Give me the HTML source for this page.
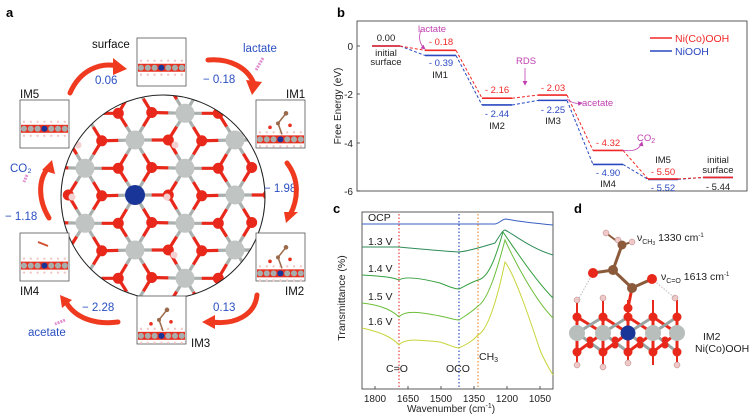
<!DOCTYPE html>
<html><head><meta charset="utf-8"><style>
html,body{margin:0;padding:0;background:#fff;width:750px;height:416px;overflow:hidden;}
svg{display:block;font-family:"Liberation Sans",Arial,sans-serif;overflow:hidden;}
</style></head><body>
<svg id="s" width="750" height="416" viewBox="0 0 750 416" xmlns="http://www.w3.org/2000/svg">
<defs>
<clipPath id="cc"><circle cx="163" cy="197" r="102"/></clipPath>
<marker id="ma" markerWidth="6" markerHeight="6" refX="5" refY="3" orient="auto"><path d="M0,0 L6,3 L0,6 z" fill="#c040b0"/></marker>
</defs>
<text x="6" y="17" font-size="13" font-weight="bold">a</text>
<text x="337" y="17" font-size="13" font-weight="bold">b</text>
<text x="333" y="213" font-size="13" font-weight="bold">c</text>
<text x="574" y="213" font-size="13" font-weight="bold">d</text>

<g id="lat" clip-path="url(#cc)"></g>
<circle cx="163" cy="197" r="102" fill="none" stroke="#222" stroke-width="1"/>
<g id="boxes"></g>

<g font-size="11.5" fill="#111">
<text x="92" y="48">surface</text>
<text x="286" y="98">IM1</text>
<text x="20" y="98">IM5</text>
<text x="20" y="295">IM4</text>
<text x="285" y="295">IM2</text>
<text x="191" y="347">IM3</text>
</g>
<g font-size="11.5" fill="#2a4fc0">
<text x="243" y="52">lactate</text>
<text x="203" y="83">− 0.18</text>
<text x="95" y="84">0.06</text>
<text x="264" y="192">− 1.98</text>
<text x="10" y="172">CO₂</text>
<text x="5" y="220">− 1.18</text>
<text x="82" y="311">− 2.28</text>
<text x="213" y="311">0.13</text>
<text x="28" y="336">acetate</text>
</g>
<g fill="none" stroke="#f03a20" stroke-width="5" stroke-linecap="round">
<path d="M70,93 C80,70 100,62 118,66"/>
<path d="M208,60 C230,58 248,68 254,84"/>
<path d="M287,163 C300,180 298,200 290,215"/>
<path d="M257,295 C255,315 235,325 212,322"/>
<path d="M118,322 C95,325 75,318 66,302"/>
<path d="M49,218 C38,200 38,180 48,168"/>
</g>
<g fill="#f03a20">
<path d="M113,58 L127,69 L113,75 z"/>
<path d="M246,80 L262,82 L252,95 z"/>
<path d="M284,212 L298,212 L286,223 z"/>
<path d="M215,315 L202,322 L215,329 z"/>
<path d="M60,295 L72,300 L62,308 z"/>
<path d="M42,170 L52,160 L55,174 z"/>
</g>
<g stroke="#e090d0" stroke-width="3" stroke-dasharray="2,1">
<path d="M263,58 L256,70"/><path d="M27,175 L24,182"/><path d="M65,320 L55,324"/>
</g>

<rect x="357" y="21" width="390" height="170" fill="none" stroke="#333" stroke-width="0.8"/>
<g stroke="#333" stroke-width="0.8"><path d="M357,46h3M357,94h3M357,143h3M357,191h3"/></g>
<g font-size="10" text-anchor="end" fill="#222">
<text x="353" y="50">0</text><text x="353" y="98">-2</text><text x="353" y="147">-4</text><text x="353" y="195">-6</text>
</g>
<text transform="translate(341,106) rotate(-90)" font-size="10" text-anchor="middle" fill="#222">Free Energy (eV)</text>
<g id="lev"></g>
<path d="M650,38h22" stroke="#f02828" stroke-width="1.5"/><text x="675" y="42" font-size="10.5" fill="#f02828">Ni(Co)OOH</text>
<path d="M650,51h22" stroke="#2a48c0" stroke-width="1.5"/><text x="675" y="55" font-size="10.5" fill="#2a48c0">NiOOH</text>
<g font-size="9.5" text-anchor="middle" fill="#222">
<text x="386" y="41">0.00</text><text x="386" y="56">initial</text><text x="386" y="65">surface</text>
<text x="440" y="78">IM1</text><text x="497" y="129">IM2</text><text x="553" y="124">IM3</text>
<text x="608" y="187">IM4</text><text x="663" y="163">IM5</text>
<text x="718" y="163">initial</text><text x="718" y="173">surface</text><text x="718" y="190">- 5.44</text>
</g>
<g font-size="9.5" text-anchor="middle" fill="#f02828">
<text x="441" y="45">- 0.18</text><text x="497" y="93">- 2.16</text><text x="553" y="91">- 2.03</text><text x="608" y="146">- 4.32</text><text x="663" y="175">- 5.50</text>
</g>
<g font-size="9.5" text-anchor="middle" fill="#2a48c0">
<text x="441" y="66">- 0.39</text><text x="497" y="117">- 2.44</text><text x="553" y="113">- 2.25</text><text x="608" y="176">- 4.90</text><text x="663" y="191">- 5.52</text>
</g>
<g font-size="9.5" fill="#c040b0">
<text x="418" y="32">lactate</text><text x="516" y="64">RDS</text><text x="582" y="106">acetate</text><text x="637" y="141">CO<tspan font-size="7" dy="2">2</tspan></text>
</g>
<g fill="none" stroke="#c040b0" stroke-width="0.8" marker-end="url(#ma)">
<path d="M421,30 C418,38 420,45 425,49"/><path d="M525,68 L525,85"/><path d="M567,99 C572,103 576,104 582,103"/><path d="M622,150 C632,152 640,150 642,142"/>
</g>

<rect x="362" y="212" width="191" height="177" fill="none" stroke="#333" stroke-width="0.8"/>
<g stroke="#333" stroke-width="0.8"><path d="M375,389v-3M408,389v-3M441,389v-3M474,389v-3M507,389v-3M540,389v-3"/></g>
<g font-size="10" text-anchor="middle" fill="#222">
<text x="375" y="402">1800</text><text x="408" y="402">1650</text><text x="441" y="402">1500</text><text x="474" y="402">1350</text><text x="507" y="402">1200</text><text x="540" y="402">1050</text>
<text x="451" y="412">Wavenumber (cm<tspan font-size="7" dy="-4">-1</tspan><tspan dy="4">)</tspan></text>
</g>
<text transform="translate(345,298) rotate(-90)" font-size="10.5" text-anchor="middle" fill="#222">Transmittance (%)</text>
<g stroke-width="1.2" stroke-dasharray="1.5,2">
<path d="M399,214V389" stroke="#f04040"/><path d="M459,214V389" stroke="#3050c0"/><path d="M478,214V389" stroke="#f09040"/>
</g>
<g fill="none" stroke-width="1">
<path stroke="#3a5fc4" d="M362 224 L495 224 C500 223 502 219 506 219 C512 220 520 222 553 225"/>
<path stroke="#2e8b57" d="M362 247 L398 247 C410 248 440 251 459 252 C470 251 485 246 495 243 C500 235 503 230 505 230 C515 235 530 248 553 255"/>
<path stroke="#35a040" d="M362 275 C380 276 392 277 399 280 C405 276 420 278 440 283 C450 287 455 289 459 289 C465 286 472 282 478 280 C488 278 495 260 503 232 C512 245 535 280 553 298"/>
<path stroke="#6cbf3a" d="M362 303 C380 305 392 310 399 317 C405 310 420 312 440 316 C450 318 455 320 459 320 C465 316 472 312 478 306 C488 300 497 270 505 240 C515 262 535 300 553 318"/>
<path stroke="#c8d43a" d="M362 328 C380 332 392 337 399 345 C405 338 420 340 440 342 C450 345 455 348 459 348 C465 345 472 342 478 335 C488 330 497 300 505 262 C515 275 530 320 540 350 C545 362 550 370 553 375"/>
</g>
<g font-size="10.5" fill="#222">
<text x="368" y="221">OCP</text><text x="368" y="245">1.3 V</text><text x="368" y="272">1.4 V</text><text x="368" y="300">1.5 V</text><text x="368" y="325">1.6 V</text>
<text x="386" y="372">C=O</text><text x="446" y="372">OCO</text><text x="479" y="360">CH<tspan font-size="7" dy="2">3</tspan></text>
</g>

<g id="mol"></g>
<g font-size="10.5" fill="#222">
<text x="637" y="241">ν<tspan font-size="7" dy="3">CH</tspan><tspan font-size="5" dy="1">3</tspan><tspan dy="-4"> 1330 cm</tspan><tspan font-size="6" dy="-4">-1</tspan></text>
<text x="661" y="280">ν<tspan font-size="7" dy="3">C=O</tspan><tspan dy="-3"> 1613 cm</tspan><tspan font-size="6" dy="-4">-1</tspan></text>
<text x="703" y="340">IM2</text><text x="695" y="352">Ni(Co)OOH</text>
</g>
</svg>
<script>
var NS="http://www.w3.org/2000/svg";
function el(p,t,a){var e=document.createElementNS(NS,t);for(var k in a)e.setAttribute(k,a[k]);p.appendChild(e);return e;}
function inC(p,r){var dx=p[0]-163,dy=p[1]-197;return dx*dx+dy*dy<r*r;}
var L=document.getElementById('lat');
var metals=[];
for(var i=-1;i<7;i++){var x=35+i*50;var odd=((i%2)+2)%2;var off=odd?3.3:30;for(var j=-2;j<8;j++){var p=[x,off+j*55];if(inC(p,150))metals.push(p);}}
var Os=[];
metals.forEach(function(m){var x=m[0],y=m[1];[[x+16.7,y+27.5],[x+33.3,y]].forEach(function(o){if(inC(o,120))Os.push(o);});});
metals=metals.filter(function(m){return inC(m,118);});
Os.forEach(function(o){metals.forEach(function(m){var dx=m[0]-o[0],dy=m[1]-o[1];var d=Math.sqrt(dx*dx+dy*dy);if(d<36){var mx=(o[0]+m[0])/2,my=(o[1]+m[1])/2;el(L,'line',{x1:m[0],y1:m[1],x2:mx,y2:my,stroke:'#a9b0ae','stroke-width':3.2});el(L,'line',{x1:o[0],y1:o[1],x2:mx,y2:my,stroke:'#e8281a','stroke-width':3.2});}});});
Os.forEach(function(o){el(L,'circle',{cx:o[0],cy:o[1],r:5.5,fill:'#e8281a'});});
metals.forEach(function(m){var blue=(Math.abs(m[0]-135)<1&&Math.abs(m[1]-195)<2);el(L,'circle',{cx:m[0],cy:m[1],r:blue?10:9.5,fill:blue?'#1a3598':'#c0c4c2'});});
[[72,197],[167,197],[175,145],[174,255],[78,145]].forEach(function(h){el(L,'circle',{cx:h[0],cy:h[1],r:3.5,fill:'#f5d0d0'});});
var B=document.getElementById('boxes');
function box(x,y,frac,ads){el(B,'rect',{x:x,y:y,width:49,height:48,fill:'#fff',stroke:'#555','stroke-width':0.8});var sy=y+48*frac;
el(B,'rect',{x:x+1,y:sy-4,width:47,height:8,fill:'#e83020'});
for(var k=0;k<7;k++){var cx=x+4+k*6.8;el(B,'circle',{cx:cx,cy:sy,r:3,fill:k==3?'#1a3598':'#a8aeac'});el(B,'circle',{cx:cx,cy:sy-7,r:1.2,fill:'#f0c8c8'});el(B,'circle',{cx:cx,cy:sy+7,r:1.2,fill:'#f0c8c8'});}
if(ads){var cx=x+26,ty=sy-30;el(B,'line',{x1:cx,y1:sy-5,x2:cx-4,y2:ty+14,stroke:'#9a6a4a','stroke-width':1.5});el(B,'line',{x1:cx-4,y1:ty+14,x2:cx+4,y2:ty+4,stroke:'#9a6a4a','stroke-width':1.5});el(B,'circle',{cx:cx-4,cy:ty+14,r:2,fill:'#9a6a4a'});el(B,'circle',{cx:cx+4,cy:ty+4,r:2.3,fill:'#9a6a4a'});el(B,'circle',{cx:cx-12,cy:ty+18,r:1.8,fill:'#e83020'});el(B,'circle',{cx:cx+8,cy:ty+16,r:1.8,fill:'#e83020'});}
}
box(137,38,0.62,false);box(256,100,0.82,true);box(256,233,0.84,true);box(137,296,0.83,true);box(20,233,0.68,false);box(20,100,0.6,false);
el(B,'line',{x1:38,y1:242,x2:48,y2:246,stroke:'#d05030','stroke-width':2});
var G=document.getElementById('lev');
var xs=[[372,400],[425,456],[482,512],[538,567],[593,623],[648,678],[703,733]];
function Y(e){return 46-e*24.17;}
function series(v,c){for(var k=0;k<7;k++){el(G,'line',{x1:xs[k][0],x2:xs[k][1],y1:Y(v[k]),y2:Y(v[k]),stroke:c,'stroke-width':1.6});if(k<6)el(G,'line',{x1:xs[k][1],y1:Y(v[k]),x2:xs[k+1][0],y2:Y(v[k+1]),stroke:c,'stroke-width':1,'stroke-dasharray':'3,2'});}}
series([0,-0.39,-2.44,-2.25,-4.90,-5.52,-5.44],'#2a48c0');
series([0,-0.18,-2.16,-2.03,-4.32,-5.50,-5.44],'#f02828');
var M=document.getElementById('mol');
var gx=[577,603,628,653,677];
[317,352].forEach(function(y){gx.forEach(function(x){el(M,'line',{x1:x,y1:y,x2:x,y2:333,stroke:'#e8281a','stroke-width':3});});});
for(var k=0;k<4;k++){[317,352].forEach(function(y){el(M,'line',{x1:gx[k],y1:y,x2:gx[k+1],y2:333,stroke:'#e8281a','stroke-width':3});el(M,'line',{x1:gx[k+1],y1:y,x2:gx[k],y2:333,stroke:'#9aa4a2','stroke-width':3});});}
gx.forEach(function(x){el(M,'line',{x1:x,y1:317,x2:x,y2:300,stroke:'#e8281a','stroke-width':2});el(M,'line',{x1:x,y1:352,x2:x,y2:365,stroke:'#e8281a','stroke-width':2});});
[[577,300],[603,298],[675,298],[577,365],[603,367],[628,363],[677,365]].forEach(function(h){el(M,'circle',{cx:h[0],cy:h[1],r:3,fill:'#f0c8c8',stroke:'#b08080','stroke-width':0.5});});
[317,352].forEach(function(y){gx.forEach(function(x){el(M,'circle',{cx:x,cy:y,r:4.5,fill:'#e8281a'});});});
[340,345].forEach(function(y){[590,615,640,665].forEach(function(x){el(M,'circle',{cx:x,cy:y,r:3.5,fill:'#e8281a'});});});
gx.forEach(function(x,k){el(M,'circle',{cx:x,cy:333,r:k==2?7.5:8,fill:k==2?'#1a3598':'#b8bebc'});});
el(M,'line',{x1:628,y1:308,x2:632,y2:288,stroke:'#e8281a','stroke-width':3});
el(M,'line',{x1:632,y1:288,x2:652,y2:279,stroke:'#8a5a3a','stroke-width':3});
el(M,'line',{x1:632,y1:288,x2:613,y2:270,stroke:'#8a5a3a','stroke-width':3});
el(M,'line',{x1:613,y1:270,x2:593,y2:273,stroke:'#8a5a3a','stroke-width':3});
el(M,'line',{x1:613,y1:270,x2:622,y2:245,stroke:'#8a5a3a','stroke-width':3});
el(M,'line',{x1:593,y1:273,x2:578,y2:300,stroke:'#bbb','stroke-width':1,'stroke-dasharray':'1.5,1.5'});
el(M,'line',{x1:652,y1:279,x2:675,y2:298,stroke:'#bbb','stroke-width':1,'stroke-dasharray':'1.5,1.5'});
[[606,233],[632,242],[618,240]].forEach(function(h){el(M,'line',{x1:622,y1:245,x2:h[0],y2:h[1],stroke:'#8a5a3a','stroke-width':2});el(M,'circle',{cx:h[0],cy:h[1],r:3,fill:'#f0c8c8',stroke:'#b08080','stroke-width':0.5});});
el(M,'circle',{cx:628,cy:308,r:4.5,fill:'#e8281a'});
el(M,'circle',{cx:593,cy:273,r:5,fill:'#e8281a'});el(M,'circle',{cx:652,cy:279,r:5,fill:'#e8281a'});
el(M,'circle',{cx:613,cy:270,r:5,fill:'#8a5a3a'});el(M,'circle',{cx:632,cy:288,r:5,fill:'#8a5a3a'});el(M,'circle',{cx:622,cy:245,r:4.5,fill:'#8a5a3a'});
</script>
</body></html>
